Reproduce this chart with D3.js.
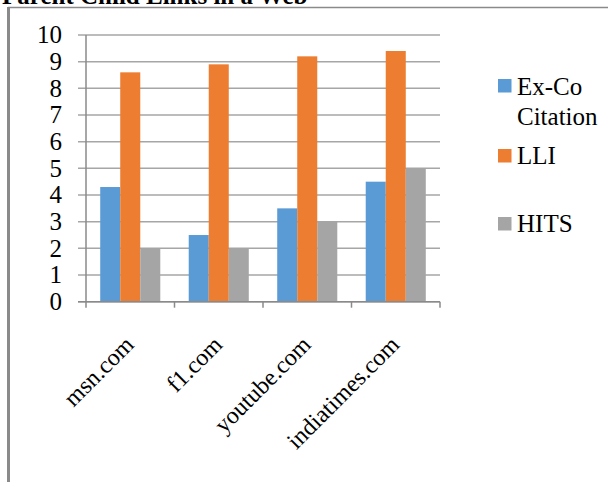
<!DOCTYPE html>
<html><head><meta charset="utf-8">
<script src="https://cdn.jsdelivr.net/npm/d3@7"></script>
<style>
html,body{margin:0;padding:0;background:#fff;}
svg{display:block;font-family:"Liberation Serif","Times New Roman",serif;}
</style></head>
<body>
<svg id="chart" width="608" height="482"></svg>
<script>
const titleText = "Parent Child Links in a Web";
const categories = ["msn.com", "f1.com", "youtube.com", "indiatimes.com"];
const seriesNames = ["Ex-Co Citation", "LLI", "HITS"];
const exCoValues = [4.3, 2.5, 3.5, 4.5];
const lliValues = [8.6, 8.9, 9.2, 9.4];
const hitsValues = [2, 2, 3, 5];
const yTicks = [0,1,2,3,4,5,6,7,8,9,10];
const colors = ["#5b9bd5", "#ed7d31", "#a5a5a5"];

(function(){
const series = [exCoValues, lliValues, hitsValues];
const svg = d3.select("#chart");

// frame
svg.append("line").attr("x1", 8).attr("x2", 608).attr("y1", 7.5).attr("y2", 7.5)
  .attr("stroke", "#8a8a8a").attr("stroke-width", 1.5);
svg.append("line").attr("x1", 8.5).attr("x2", 8.5).attr("y1", 7).attr("y2", 482)
  .attr("stroke", "#8a8a8a").attr("stroke-width", 3);

// title (clipped at top, as in the reference)
svg.append("text").attr("x", 2).attr("y", 4).attr("font-size", 25).attr("font-weight", "bold")
  .attr("fill", "#000").text(titleText);

const pLeft = 86, pRight = 440, pTop = 35, pBottom = 301.7;
const x = d3.scaleBand().domain(categories).range([pLeft, pRight]).paddingInner(0).paddingOuter(0);
const xi = d3.scaleBand().domain(d3.range(series.length)).range([0, x.bandwidth()]).paddingInner(0).paddingOuter(0.71);
const y = d3.scaleLinear().domain([0, 10]).range([pBottom, pTop]);

// gridlines
svg.append("g").selectAll("line").data(yTicks).join("line")
  .attr("x1", pLeft - 8).attr("x2", pRight)
  .attr("y1", d => y(d)).attr("y2", d => y(d))
  .attr("stroke", "#a6a6a6").attr("stroke-width", 1.5);

// y axis line
svg.append("line").attr("x1", pLeft).attr("x2", pLeft).attr("y1", pTop).attr("y2", pBottom)
  .attr("stroke", "#8a8a8a").attr("stroke-width", 1.5);

// y tick labels
svg.append("g").selectAll("text").data(yTicks).join("text")
  .attr("x", 62).attr("y", d => y(d)).attr("dy", "0.33em")
  .attr("text-anchor", "end").attr("font-size", 25).attr("fill", "#000")
  .text(d => d);

// bars
const groups = svg.append("g").selectAll("g").data(categories).join("g")
  .attr("transform", c => `translate(${x(c)},0)`);
groups.selectAll("rect").data((c, ci) => series.map((s, si) => ({si, v: s[ci]}))).join("rect")
  .attr("x", d => xi(d.si)).attr("width", xi.bandwidth())
  .attr("y", d => y(d.v)).attr("height", d => y(0) - y(d.v))
  .attr("fill", d => colors[d.si]);

// x axis line and ticks
svg.append("line").attr("x1", pLeft - 8).attr("x2", pRight).attr("y1", pBottom).attr("y2", pBottom)
  .attr("stroke", "#8a8a8a").attr("stroke-width", 1.5);
const boundaries = categories.map(c => x(c)).concat([pRight]);
svg.append("g").selectAll("line").data(boundaries).join("line")
  .attr("x1", d => d).attr("x2", d => d).attr("y1", pBottom).attr("y2", pBottom + 6)
  .attr("stroke", "#8a8a8a").attr("stroke-width", 1.5);

// category labels
svg.append("g").selectAll("text").data(categories).join("text")
  .attr("transform", c => `translate(${x(c) + x.bandwidth()/2 + 5},346) rotate(-45)`)
  .attr("text-anchor", "end").attr("font-size", 24).attr("fill", "#000")
  .text(c => c);

// legend
const legendItems = [
  {lines: ["Ex-Co", "Citation"], sy: 79, ty: 95},
  {lines: ["LLI"], sy: 149, ty: 164},
  {lines: ["HITS"], sy: 217, ty: 232}
];
const lg = svg.append("g");
legendItems.forEach((it, i) => {
  lg.append("rect").attr("x", 498).attr("y", it.sy).attr("width", 13.5).attr("height", 13.5)
    .attr("fill", colors[i]);
  const t = lg.append("text").attr("x", 517).attr("y", it.ty).attr("font-size", 25).attr("fill", "#000");
  it.lines.forEach((ln, k) => {
    t.append("tspan").attr("x", 517).attr("dy", k === 0 ? 0 : 30).text(ln);
  });
});
})();
</script>
</body></html>
